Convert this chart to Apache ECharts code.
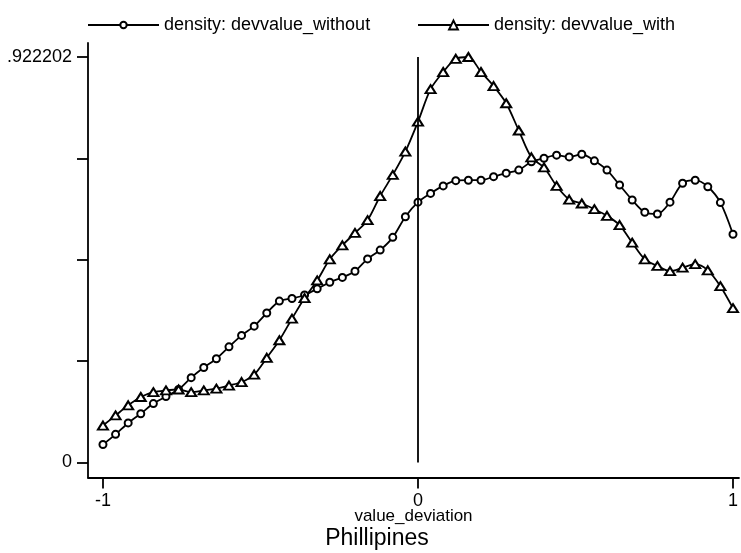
<!DOCTYPE html>
<html>
<head>
<meta charset="utf-8">
<script src="https://cdn.jsdelivr.net/npm/echarts@6/dist/echarts.min.js"></script>
<style>
html,body{margin:0;padding:0;background:#fff;}
#chart{width:741px;height:553px;}
</style>
</head>
<body>
<div id="chart"></div>
<script>
var xValues = [-1.00,-0.96,-0.92,-0.88,-0.84,-0.80,-0.76,-0.72,-0.68,-0.64,-0.60,-0.56,-0.52,-0.48,-0.44,-0.40,-0.36,-0.32,-0.28,-0.24,-0.20,-0.16,-0.12,-0.08,-0.04,
  0.00,0.04,0.08,0.12,0.16,0.20,0.24,0.28,0.32,0.36,0.40,0.44,0.48,0.52,0.56,0.60,0.64,0.68,0.72,0.76,0.80,0.84,0.88,0.92,0.96,1.00];
var densityWithout = [0.041,0.064,0.090,0.111,0.134,0.150,0.166,0.193,0.216,0.236,0.263,0.289,0.310,0.340,0.367,0.373,0.381,0.395,0.410,0.421,0.435,0.463,0.483,0.512,0.559,
  0.592,0.612,0.629,0.641,0.642,0.642,0.650,0.658,0.665,0.684,0.692,0.699,0.695,0.701,0.686,0.665,0.631,0.597,0.569,0.565,0.592,0.635,0.642,0.627,0.591,0.519];
var densityWith = [0.084,0.107,0.130,0.149,0.160,0.164,0.166,0.160,0.164,0.168,0.175,0.183,0.200,0.238,0.278,0.327,0.374,0.414,0.462,0.494,0.522,0.551,0.606,0.654,0.707,
  0.775,0.849,0.888,0.918,0.922202,0.888,0.856,0.817,0.755,0.694,0.671,0.629,0.598,0.589,0.576,0.561,0.540,0.500,0.462,0.447,0.435,0.443,0.451,0.437,0.401,0.351];
var yTicks = [0, 0.2305505, 0.461101, 0.6916515, 0.922202];
var yLabelValues = [0, 0.922202];
var yLabelTexts = ['0', '.922202'];
var xTicks = [-1, 0, 1];
var refLineX = 0;
var seriesNames = ['density: devvalue_without', 'density: devvalue_with'];
var xName = 'value_deviation';
var titleText = 'Phillipines';

var FONT = '"Liberation Sans", Arial, Helvetica, sans-serif';
var LW = 1.8;
function pairs(ys){ return xValues.map(function(x,i){ return [x, ys[i]]; }); }

var chart = echarts.init(document.getElementById('chart'), null, {renderer:'canvas'});
chart.setOption({
  animation: false,
  backgroundColor: '#fff',
  textStyle: {fontFamily: FONT, color: '#000'},
  legend: [
    {data: [seriesNames[0]], left: 87, top: 16, padding: 0, itemWidth: 71, itemHeight: 8,
     textStyle: {fontSize: 18, color: '#000', fontFamily: FONT}},
    {data: [seriesNames[1]], left: 417, top: 16, padding: 0, itemWidth: 71, itemHeight: 11,
     textStyle: {fontSize: 18, color: '#000', fontFamily: FONT}}
  ],
  grid: {left: 88, right: 0, top: 43, bottom: 75.5, containLabel: false},
  xAxis: {
    type: 'value', min: -1.0475, max: 1.019,
    name: xName, nameLocation: 'middle', nameGap: 30, nameMoveOverlap: false,
    nameTextStyle: {fontSize: 17, color: '#000', fontFamily: FONT},
    axisLine: {show: true, onZero: false, lineStyle: {color: '#000', width: LW}},
    axisTick: {show: true, length: 11, customValues: xTicks, lineStyle: {color: '#000', width: LW}},
    axisLabel: {show: true, customValues: xTicks, fontSize: 18, color: '#000', margin: 15, fontFamily: FONT,
      formatter: function(v){ return String(v); }},
    splitLine: {show: false}
  },
  yAxis: {
    type: 'value', min: -0.0341, max: 0.954,
    axisLine: {show: true, onZero: false, lineStyle: {color: '#000', width: LW}},
    axisTick: {show: true, length: 11, customValues: yTicks, lineStyle: {color: '#000', width: LW}},
    axisLabel: {show: true, customValues: yLabelValues, fontSize: 18, color: '#000', margin: 16, fontFamily: FONT,
      formatter: function(v){ var i = yLabelValues.indexOf(v); return i >= 0 ? yLabelTexts[i] : ''; }},
    splitLine: {show: false}
  },
  graphic: [{
    type: 'text', x: 377, y: 539,
    style: {text: titleText, font: '23px ' + FONT, fill: '#000', textAlign: 'center', textVerticalAlign: 'middle'}
  }],
  series: [
    {
      name: seriesNames[0], type: 'line', data: pairs(densityWithout), smooth: 0.3,
      symbol: 'emptyCircle', symbolSize: 7, showAllSymbol: true,
      lineStyle: {color: '#000', width: LW},
      itemStyle: {color: '#000', borderColor: '#000', borderWidth: 1.5},
      markLine: {
        silent: true, symbol: 'none', animation: false,
        label: {show: false},
        lineStyle: {color: '#000', width: LW, type: 'solid'},
        data: [[{coord: [refLineX, 0]}, {coord: [refLineX, densityWith[29]]}]]
      }
    },
    {
      name: seriesNames[1], type: 'line', data: pairs(densityWith), smooth: 0.3,
      symbol: 'emptyTriangle', symbolSize: [10, 8], showAllSymbol: true,
      lineStyle: {color: '#000', width: LW},
      itemStyle: {color: '#000', borderColor: '#000', borderWidth: 1.5}
    }
  ]
});
</script>
</body>
</html>
